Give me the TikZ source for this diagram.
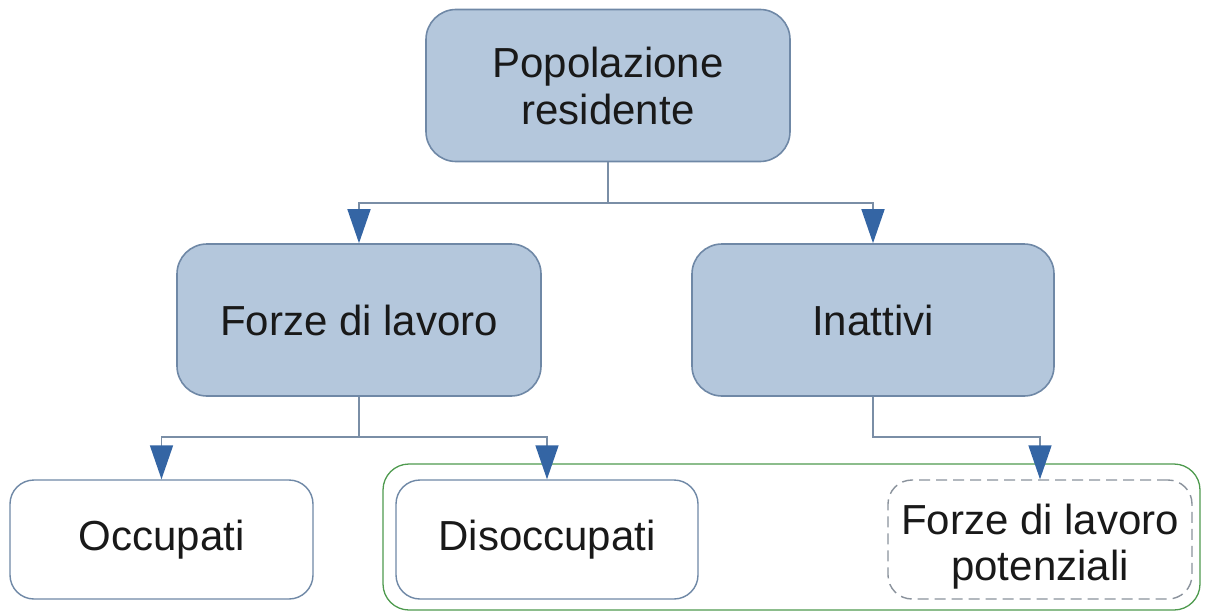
\documentclass[tikz,border=0pt]{standalone}
\usepackage{fontspec}
\setmainfont{Liberation Sans}
\usetikzlibrary{arrows.meta}
\definecolor{boxfill}{HTML}{B4C7DC}
\definecolor{boxline}{HTML}{6F88A6}
\definecolor{conline}{HTML}{7A8EA6}
\definecolor{tipblue}{HTML}{3465A4}
\definecolor{grn}{HTML}{4E9A4E}
\definecolor{dashgray}{HTML}{8A929C}
\tikzset{
  bluebox/.style={draw=boxline, line width=1.6pt, fill=boxfill, rounded corners=30pt,
    minimum width=364pt, minimum height=152pt, align=center, inner sep=0pt,
    font=\fontsize{42}{47}\selectfont, text=black!90},
  whitebox/.style={draw=boxline, line width=1.4pt, fill=white, rounded corners=24pt,
    minimum width=303pt, minimum height=119pt, align=center, inner sep=0pt,
    font=\fontsize{42}{46}\selectfont, text=black!90},
  dashbox/.style={whitebox, draw=dashgray, dash pattern=on 11pt off 6pt},
  boxtext/.style={align=center, inner sep=0pt, font=\fontsize{42}{46}\selectfont, text=black!90},
  conn/.style={draw=conline, line width=1.6pt,
    -{Triangle[width=23pt,length=34pt,color=tipblue]}},
  groupbox/.style={draw=grn, line width=1.3pt, rounded corners=26pt}
}
\begin{document}
\begin{tikzpicture}[x=1pt,y=-1pt]
\useasboundingbox (0,0) rectangle (1205,613);
% group
\draw[groupbox] (383,464) rectangle (1200,610);
% nodes
\node[bluebox] (pop) at (608,85.5) {Popolazione\\residente};
\node[bluebox] (forze) at (359,320) {Forze di lavoro};
\node[bluebox,minimum width=362pt] (inatt) at (873,320) {Inattivi};
\node[whitebox] (occ) at (161.5,539.5) {Occupati};
\node[whitebox,minimum width=302pt] (dis) at (547,539.5) {Disoccupati};
\node[dashbox,minimum width=304pt] (pot) at (1040,539.5) {};
\node[boxtext] (pottext) at ([yshift=-7pt]pot.center) {Forze di lavoro\\potenziali};
% junctions
\coordinate (j1) at (608,203);
\coordinate (j2) at (359,437);
\coordinate (j3) at (873,437);
% connectors
\draw[conn] (pop.south) -- (j1) -| (forze.north);
\draw[conn] (pop.south) -- (j1) -| (inatt.north);
\draw[conn] (forze.south) -- (j2) -| (occ.north);
\draw[conn] (forze.south) -- (j2) -| (dis.north);
\draw[conn] (inatt.south) -- (j3) -| (pot.north);
\end{tikzpicture}
\end{document}
